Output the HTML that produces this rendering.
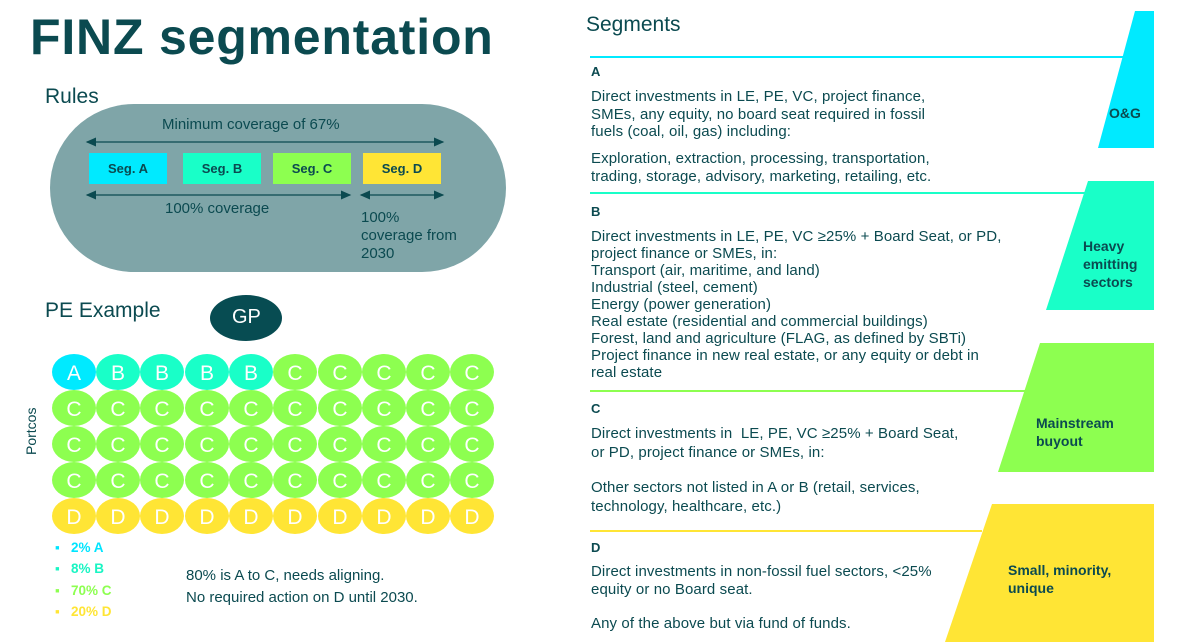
<!DOCTYPE html>
<html><head><meta charset="utf-8"><style>
body{margin:0;width:1200px;height:642px;position:relative;background:#fff;font-family:"Liberation Sans",sans-serif;color:#0b4a50;overflow:hidden}
.t{position:absolute;white-space:nowrap;line-height:1}
.r{font-size:15px;letter-spacing:0.1px}
.b{font-weight:bold}
.seg{position:absolute;top:153px;width:78px;height:31px;font-weight:bold;font-size:13px;display:flex;align-items:center;justify-content:center;color:#0b4a50}
.lab{position:absolute;font-weight:bold;font-size:14px;line-height:18px;color:#0b4a50}
</style></head><body>
<div class="t b" style="left:30px;top:12px;font-size:50px;letter-spacing:0.8px">FINZ segmentation</div>
<div class="t" style="left:45px;top:86px;font-size:21px">Rules</div>
<div style="position:absolute;left:50px;top:104px;width:456px;height:168px;border-radius:84px;background:#7fa5a8"></div>
<div class="t" style="left:162px;top:117px;font-size:15px">Minimum coverage of 67%</div>
<div class="seg" style="left:89px;background:#00eaff">Seg. A</div>
<div class="seg" style="left:183px;background:#19ffc8">Seg. B</div>
<div class="seg" style="left:273px;background:#8dff50">Seg. C</div>
<div class="seg" style="left:363px;background:#ffe535">Seg. D</div>
<svg style="position:absolute;left:0;top:0" width="600" height="642">
<defs><marker id="ah" markerWidth="8" markerHeight="8" refX="7" refY="4" orient="auto-start-reverse"><path d="M0,0.5 L8,4 L0,7.5z" fill="#0b4a50"/></marker></defs>
<g stroke="#0b4a50" stroke-width="1.3" marker-start="url(#ah)" marker-end="url(#ah)">
<line x1="87" y1="142" x2="443" y2="142"/>
<line x1="87" y1="195" x2="350" y2="195"/>
<line x1="361" y1="195" x2="443" y2="195"/>
</g>
<ellipse cx="246" cy="318" rx="36" ry="23" fill="#074c52"/>
</svg>
<div class="t" style="left:165px;top:201px;font-size:15px">100% coverage</div>
<div class="t" style="left:361px;top:209px;font-size:15px;line-height:18px;white-space:normal;width:120px">100%<br>coverage from<br>2030</div>
<div class="t" style="left:45px;top:300px;font-size:21px">PE Example</div>
<div class="t" style="left:232px;top:307px;font-size:20px;color:#fff">GP</div>
<div class="t" style="left:24px;top:455px;font-size:14px;transform:rotate(-90deg);transform-origin:0 0">Portcos</div>
<div class="t b" style="left:55px;top:541px;font-size:13.5px;color:#00e5ff">▪&nbsp;&nbsp; 2% A</div>
<div class="t b" style="left:55px;top:562px;font-size:13.5px;color:#19f5c3">▪&nbsp;&nbsp; 8% B</div>
<div class="t b" style="left:55px;top:584px;font-size:13.5px;color:#8dff50">▪&nbsp;&nbsp; 70% C</div>
<div class="t b" style="left:55px;top:605px;font-size:13.5px;color:#ffe535">▪&nbsp;&nbsp; 20% D</div>
<div class="t" style="left:186px;top:568px;font-size:15px">80% is A to C, needs aligning.</div>
<div class="t" style="left:186px;top:590px;font-size:15px">No required action on D until 2030.</div>

<svg style="position:absolute;left:0;top:0" width="1200" height="642">
<polygon points="1135,11 1154,11 1154,148 1098,148" fill="#00eaff"/>
<polygon points="1088,181 1154,181 1154,310 1046,310" fill="#19ffc8"/>
<polygon points="1040,343 1154,343 1154,472 998,472" fill="#8dff50"/>
<polygon points="992,504 1154,504 1154,642 945,642" fill="#ffe535"/>
<line x1="590" y1="57" x2="1130" y2="57" stroke="#00eaff" stroke-width="2"/>
<line x1="590" y1="193" x2="1088" y2="193" stroke="#19ffc8" stroke-width="2"/>
<line x1="590" y1="391" x2="1025" y2="391" stroke="#8dff50" stroke-width="2"/>
<line x1="590" y1="531" x2="982" y2="531" stroke="#ffe535" stroke-width="2"/>
</svg>
<div class="lab" style="left:1109px;top:104px">O&amp;G</div>
<div class="lab" style="left:1083px;top:237px">Heavy<br>emitting<br>sectors</div>
<div class="lab" style="left:1036px;top:414px">Mainstream<br>buyout</div>
<div class="lab" style="left:1008px;top:561px">Small, minority,<br>unique</div>

<div class="t" style="left:586px;top:14px;font-size:21px">Segments</div>
<div class="t b" style="left:591px;top:65px;font-size:13px">A</div>
<div class="t r" style="left:591px;top:89px">Direct investments in LE, PE, VC, project finance,</div>
<div class="t r" style="left:591px;top:107px">SMEs, any equity, no board seat required in fossil</div>
<div class="t r" style="left:591px;top:124px">fuels (coal, oil, gas) including:</div>
<div class="t r" style="left:591px;top:151px">Exploration, extraction, processing, transportation,</div>
<div class="t r" style="left:591px;top:169px">trading, storage, advisory, marketing, retailing, etc.</div>
<div class="t b" style="left:591px;top:205px;font-size:13px">B</div>
<div class="t r" style="left:591px;top:229px">Direct investments in LE, PE, VC ≥25% + Board Seat, or PD,</div>
<div class="t r" style="left:591px;top:246px">project finance or SMEs, in:</div>
<div class="t r" style="left:591px;top:263px">Transport (air, maritime, and land)</div>
<div class="t r" style="left:591px;top:280px">Industrial (steel, cement)</div>
<div class="t r" style="left:591px;top:297px">Energy (power generation)</div>
<div class="t r" style="left:591px;top:314px">Real estate (residential and commercial buildings)</div>
<div class="t r" style="left:591px;top:331px">Forest, land and agriculture (FLAG, as defined by SBTi)</div>
<div class="t r" style="left:591px;top:348px">Project finance in new real estate, or any equity or debt in</div>
<div class="t r" style="left:591px;top:365px">real estate</div>
<div class="t b" style="left:591px;top:402px;font-size:13px">C</div>
<div class="t r" style="left:591px;top:426px">Direct investments in &nbsp;LE, PE, VC ≥25% + Board Seat,</div>
<div class="t r" style="left:591px;top:445px">or PD, project finance or SMEs, in:</div>
<div class="t r" style="left:591px;top:480px">Other sectors not listed in A or B (retail, services,</div>
<div class="t r" style="left:591px;top:499px">technology, healthcare, etc.)</div>
<div class="t b" style="left:591px;top:541px;font-size:13px">D</div>
<div class="t r" style="left:591px;top:564px">Direct investments in non-fossil fuel sectors, &lt;25%</div>
<div class="t r" style="left:591px;top:582px">equity or no Board seat.</div>
<div class="t r" style="left:591px;top:616px">Any of the above but via fund of funds.</div>

<svg style="position:absolute;left:0;top:0" width="600" height="642" font-family="Liberation Sans, sans-serif" font-size="21" fill="#fff" text-anchor="middle">
<g>
<ellipse cx="74" cy="372" rx="22" ry="18" fill="#00eaff"/><text x="74" y="380">A</text>
<ellipse cx="118" cy="372" rx="22" ry="18" fill="#19ffc8"/><text x="118" y="380">B</text>
<ellipse cx="162" cy="372" rx="22" ry="18" fill="#19ffc8"/><text x="162" y="380">B</text>
<ellipse cx="207" cy="372" rx="22" ry="18" fill="#19ffc8"/><text x="207" y="380">B</text>
<ellipse cx="251" cy="372" rx="22" ry="18" fill="#19ffc8"/><text x="251" y="380">B</text>
<ellipse cx="295" cy="372" rx="22" ry="18" fill="#8dff50"/><text x="295" y="380">C</text>
<ellipse cx="340" cy="372" rx="22" ry="18" fill="#8dff50"/><text x="340" y="380">C</text>
<ellipse cx="384" cy="372" rx="22" ry="18" fill="#8dff50"/><text x="384" y="380">C</text>
<ellipse cx="428" cy="372" rx="22" ry="18" fill="#8dff50"/><text x="428" y="380">C</text>
<ellipse cx="472" cy="372" rx="22" ry="18" fill="#8dff50"/><text x="472" y="380">C</text>
</g>
<g fill="#8dff50">
<ellipse cx="74" cy="408" rx="22" ry="18"/><ellipse cx="118" cy="408" rx="22" ry="18"/><ellipse cx="162" cy="408" rx="22" ry="18"/><ellipse cx="207" cy="408" rx="22" ry="18"/><ellipse cx="251" cy="408" rx="22" ry="18"/><ellipse cx="295" cy="408" rx="22" ry="18"/><ellipse cx="340" cy="408" rx="22" ry="18"/><ellipse cx="384" cy="408" rx="22" ry="18"/><ellipse cx="428" cy="408" rx="22" ry="18"/><ellipse cx="472" cy="408" rx="22" ry="18"/>
<ellipse cx="74" cy="444" rx="22" ry="18"/><ellipse cx="118" cy="444" rx="22" ry="18"/><ellipse cx="162" cy="444" rx="22" ry="18"/><ellipse cx="207" cy="444" rx="22" ry="18"/><ellipse cx="251" cy="444" rx="22" ry="18"/><ellipse cx="295" cy="444" rx="22" ry="18"/><ellipse cx="340" cy="444" rx="22" ry="18"/><ellipse cx="384" cy="444" rx="22" ry="18"/><ellipse cx="428" cy="444" rx="22" ry="18"/><ellipse cx="472" cy="444" rx="22" ry="18"/>
<ellipse cx="74" cy="480" rx="22" ry="18"/><ellipse cx="118" cy="480" rx="22" ry="18"/><ellipse cx="162" cy="480" rx="22" ry="18"/><ellipse cx="207" cy="480" rx="22" ry="18"/><ellipse cx="251" cy="480" rx="22" ry="18"/><ellipse cx="295" cy="480" rx="22" ry="18"/><ellipse cx="340" cy="480" rx="22" ry="18"/><ellipse cx="384" cy="480" rx="22" ry="18"/><ellipse cx="428" cy="480" rx="22" ry="18"/><ellipse cx="472" cy="480" rx="22" ry="18"/>
</g>
<g fill="#ffe535">
<ellipse cx="74" cy="516" rx="22" ry="18"/><ellipse cx="118" cy="516" rx="22" ry="18"/><ellipse cx="162" cy="516" rx="22" ry="18"/><ellipse cx="207" cy="516" rx="22" ry="18"/><ellipse cx="251" cy="516" rx="22" ry="18"/><ellipse cx="295" cy="516" rx="22" ry="18"/><ellipse cx="340" cy="516" rx="22" ry="18"/><ellipse cx="384" cy="516" rx="22" ry="18"/><ellipse cx="428" cy="516" rx="22" ry="18"/><ellipse cx="472" cy="516" rx="22" ry="18"/>
</g>
<g>
<text x="74" y="416">C</text><text x="118" y="416">C</text><text x="162" y="416">C</text><text x="207" y="416">C</text><text x="251" y="416">C</text><text x="295" y="416">C</text><text x="340" y="416">C</text><text x="384" y="416">C</text><text x="428" y="416">C</text><text x="472" y="416">C</text>
<text x="74" y="452">C</text><text x="118" y="452">C</text><text x="162" y="452">C</text><text x="207" y="452">C</text><text x="251" y="452">C</text><text x="295" y="452">C</text><text x="340" y="452">C</text><text x="384" y="452">C</text><text x="428" y="452">C</text><text x="472" y="452">C</text>
<text x="74" y="488">C</text><text x="118" y="488">C</text><text x="162" y="488">C</text><text x="207" y="488">C</text><text x="251" y="488">C</text><text x="295" y="488">C</text><text x="340" y="488">C</text><text x="384" y="488">C</text><text x="428" y="488">C</text><text x="472" y="488">C</text>
<text x="74" y="524">D</text><text x="118" y="524">D</text><text x="162" y="524">D</text><text x="207" y="524">D</text><text x="251" y="524">D</text><text x="295" y="524">D</text><text x="340" y="524">D</text><text x="384" y="524">D</text><text x="428" y="524">D</text><text x="472" y="524">D</text>
</g>
</svg>
</body></html>
